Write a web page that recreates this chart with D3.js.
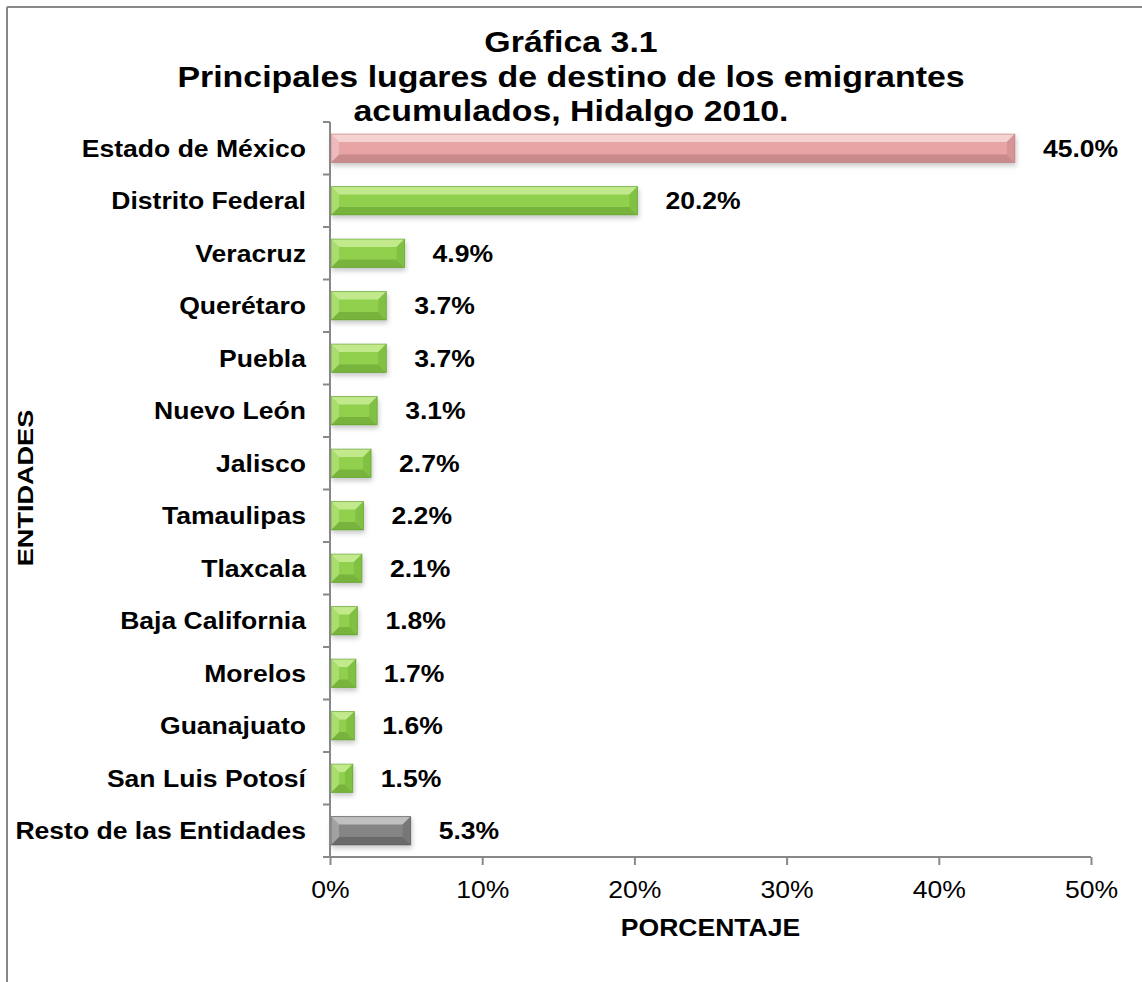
<!DOCTYPE html>
<html>
<head>
<meta charset="utf-8">
<script src="https://cdn.jsdelivr.net/npm/d3@7"></script>
<style>
  body { margin: 0; background: #fff; }
  svg text { font-family: "Liberation Sans", Arial, sans-serif; }
</style>
</head>
<body>
<div id="grafico"></div>
<script>
// Datos de la gráfica
const entidades = ['Estado de México', 'Distrito Federal', 'Veracruz', 'Querétaro', 'Puebla',
  'Nuevo León', 'Jalisco', 'Tamaulipas', 'Tlaxcala', 'Baja California', 'Morelos',
  'Guanajuato', 'San Luis Potosí', 'Resto de las Entidades'];
const porcentajes = [45.0, 20.2, 4.9, 3.7, 3.7, 3.1, 2.7, 2.2, 2.1, 1.8, 1.7, 1.6, 1.5, 5.3];
const grupos = ['mex', 'otro', 'otro', 'otro', 'otro', 'otro', 'otro', 'otro', 'otro',
  'otro', 'otro', 'otro', 'otro', 'resto'];
const ticksX = [0, 10, 20, 30, 40, 50];
const titulo = ['Gráfica 3.1', 'Principales lugares de destino de los emigrantes', 'acumulados, Hidalgo 2010.'];

const ancho = 1142, alto = 982;
const margen = { top: 122, left: 330, right: 51, bottom: 125 };
const estirar = 1.13; // el texto del original se ve un poco ensanchado

// Paleta para el efecto bisel
const colores = {
  mex:   { base: '#e8a3a5', claro: '#f5d2d2', oscuro: '#c98a8c', lado: '#d69496', borde: '#b57a7c' },
  otro:  { base: '#90d04e', claro: '#c2ea8c', oscuro: '#78b43c', lado: '#80c043', borde: '#5e9a2c' },
  resto: { base: '#858585', claro: '#c0c0c0', oscuro: '#6a6a6a', lado: '#777777', borde: '#555555' }
};

const svg = d3.select('#grafico').append('svg')
  .attr('width', ancho).attr('height', alto);

// helper de texto ensanchado
function texto(g, x, y, t, tam, negrita, ancla) {
  return g.append('text')
    .attr('transform', `translate(${x},${y}) scale(${estirar},1)`)
    .attr('text-anchor', ancla || 'start')
    .attr('font-size', tam)
    .attr('font-weight', negrita ? 'bold' : 'normal')
    .text(t);
}

// sombra suave
const defs = svg.append('defs');
const filtro = defs.append('filter').attr('id', 'sombra')
  .attr('x', '-20%').attr('y', '-50%').attr('width', '140%').attr('height', '200%');
filtro.append('feDropShadow').attr('dx', 1).attr('dy', 3).attr('stdDeviation', 2.5)
  .attr('flood-color', '#000').attr('flood-opacity', 0.22);

// marco
svg.append('line').attr('x1', 7).attr('y1', 7).attr('x2', ancho).attr('y2', 7)
  .attr('stroke', '#888').attr('stroke-width', 2);
svg.append('line').attr('x1', 7).attr('y1', 7).attr('x2', 7).attr('y2', alto)
  .attr('stroke', '#888').attr('stroke-width', 2);

// titulo
const gTitulo = svg.append('g');
titulo.forEach((t, i) => texto(gTitulo, 571, 52 + i * 34.5, t, 30, true, 'middle'));

const x = d3.scaleLinear().domain([0, 50]).range([margen.left, ancho - margen.right]);
const y = d3.scaleBand().domain(entidades).range([margen.top, alto - margen.bottom])
  .paddingInner(0.46).paddingOuter(0.23);

const datos = entidades.map((e, i) => ({ entidad: e, valor: porcentajes[i], grupo: grupos[i] }));

// barras con bisel
const barras = svg.append('g').selectAll('g').data(datos).enter().append('g')
  .attr('filter', 'url(#sombra)');

barras.each(function(d) {
  const g = d3.select(this);
  const c = colores[d.grupo];
  const x0 = x(0) + 1, x1 = x(d.valor), y0 = y(d.entidad), y1 = y0 + y.bandwidth();
  const b = Math.min(8, (x1 - x0) / 2, y.bandwidth() / 2);
  g.append('rect').attr('x', x0).attr('y', y0).attr('width', x1 - x0).attr('height', y1 - y0)
    .attr('fill', c.base);
  // arriba
  g.append('polygon').attr('fill', c.claro)
    .attr('points', [[x0, y0], [x1, y0], [x1 - b, y0 + b], [x0 + b, y0 + b]].join(' '));
  // abajo
  g.append('polygon').attr('fill', c.oscuro)
    .attr('points', [[x0, y1], [x1, y1], [x1 - b, y1 - b], [x0 + b, y1 - b]].join(' '));
  // izquierda
  g.append('polygon').attr('fill', c.claro).attr('opacity', 0.5)
    .attr('points', [[x0, y0], [x0 + b, y0 + b], [x0 + b, y1 - b], [x0, y1]].join(' '));
  // derecha
  g.append('polygon').attr('fill', c.lado)
    .attr('points', [[x1, y0], [x1 - b, y0 + b], [x1 - b, y1 - b], [x1, y1]].join(' '));
  g.append('rect').attr('x', x0).attr('y', y0).attr('width', x1 - x0).attr('height', y1 - y0)
    .attr('fill', 'none').attr('stroke', c.borde).attr('stroke-width', 1).attr('opacity', 0.6);
});

// etiquetas de valores
const gValores = svg.append('g');
datos.forEach(d => {
  texto(gValores, x(d.valor) + 28, y(d.entidad) + y.bandwidth() / 2 + 8.5,
    d.valor.toFixed(1) + '%', 23.5, true);
});

// eje Y
const ejeY = svg.append('g').attr('transform', `translate(${margen.left},0)`);
ejeY.append('line').attr('x1', 0).attr('x2', 0)
  .attr('y1', margen.top).attr('y2', alto - margen.bottom)
  .attr('stroke', '#888').attr('stroke-width', 2);
const pasoY = (alto - margen.bottom - margen.top) / entidades.length;
ejeY.selectAll('line.tick').data(d3.range(entidades.length + 1)).enter().append('line')
  .attr('class', 'tick')
  .attr('x1', -7).attr('x2', 0)
  .attr('y1', i => margen.top + i * pasoY).attr('y2', i => margen.top + i * pasoY)
  .attr('stroke', '#888').attr('stroke-width', 2);
entidades.forEach(e => {
  texto(ejeY, -24, y(e) + y.bandwidth() / 2 + 8.3, e, 23.5, true, 'end');
});

// eje X
const ejeX = svg.append('g').attr('transform', `translate(0,${alto - margen.bottom})`)
  .call(d3.axisBottom(x).tickValues(ticksX).tickFormat(d => d + '%').tickSize(8).tickPadding(16));
ejeX.select('.domain').attr('stroke', '#888').attr('stroke-width', 2)
  .attr('d', `M${x(0)},0H${x(50)}`);
ejeX.selectAll('.tick line').attr('stroke', '#888').attr('stroke-width', 2);
ejeX.selectAll('.tick text').attr('font-size', 23.3).attr('fill', '#000')
  .attr('transform', `scale(${estirar + 0.01},1)`)
  .attr('font-family', '"Liberation Sans", Arial, sans-serif');

// titulos de ejes
texto(svg, (x(0) + x(50)) / 2, 936, 'PORCENTAJE', 23.5, true, 'middle');
svg.append('text')
  .attr('transform', `translate(33,488) rotate(-90) scale(1.26,1)`)
  .attr('text-anchor', 'middle').attr('font-size', 21.5).attr('font-weight', 'bold')
  .text('ENTIDADES');
</script>
</body>
</html>
